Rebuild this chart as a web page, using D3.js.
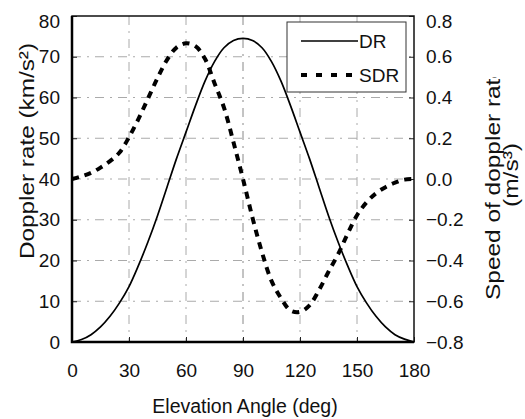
<!DOCTYPE html>
<html>
<head>
<meta charset="utf-8">
<script src="https://cdn.jsdelivr.net/npm/d3@7"></script>
<style>
    body { margin: 0; background: #fff; }
    text { font-family: "Liberation Sans", Arial, Helvetica, sans-serif; fill: #111; }
</style>
</head>
<body>
<div id="chart"></div>
<script>
// elevation angle (deg)
const angles = [0, 5, 10, 15, 20, 25, 30, 35, 40, 45, 50, 55, 60, 65, 70, 75, 80, 85, 90,
    95, 100, 105, 110, 115, 120, 125, 130, 135, 140, 145, 150, 155, 160, 165, 170, 175, 180];

// doppler rate (km/s^2), left axis
const drValues = [0, 0.6, 1.8, 3.7, 6.3, 9.6, 13.6, 18.8, 24.6, 31, 38, 45, 51.5, 58, 64, 68.8, 72.2, 74, 74.5,
    74, 72.2, 68.8, 64, 58, 51.5, 45, 38, 31, 24.6, 18.8, 13.6, 9.6, 6.3, 3.7, 1.8, 0.7, 0];

// speed of doppler rate (m/s^3), right axis
const sdrValues = [0, 0.013, 0.03, 0.056, 0.088, 0.13, 0.205, 0.295, 0.395, 0.495, 0.585, 0.645, 0.666, 0.652, 0.59, 0.47, 0.35, 0.18, 0,
    -0.19, -0.36, -0.5, -0.585, -0.645, -0.652, -0.62, -0.545, -0.455, -0.37, -0.27, -0.178, -0.115, -0.07, -0.04, -0.018, -0.003, 0];

const xTicks = [0, 30, 60, 90, 120, 150, 180];
const yLeftTicks = [0, 10, 20, 30, 40, 50, 60, 70, 80];
const yRightTicks = [-0.8, -0.6, -0.4, -0.2, 0, 0.2, 0.4, 0.6, 0.8];

const W = 525, H = 419;
const margin = {top: 16, right: 111, bottom: 77, left: 72};
const width = W - margin.left - margin.right;
const height = H - margin.top - margin.bottom;

const svg = d3.select("#chart").append("svg")
    .attr("width", W)
    .attr("height", H);

const g = svg.append("g")
    .attr("transform", "translate(" + margin.left + "," + margin.top + ")");

// scales
const x = d3.scaleLinear().domain([0, 180]).range([0, width]);
const yL = d3.scaleLinear().domain([0, 80]).range([height, 0]);
const yR = d3.scaleLinear().domain([-0.8, 0.8]).range([height, 0]);

// grid
g.append("g").selectAll("line")
    .data(yLeftTicks.filter(d => d > 0 && d < 80))
    .join("line")
    .attr("x1", 0).attr("x2", width)
    .attr("y1", d => yL(d)).attr("y2", d => yL(d))
    .attr("stroke", "#aaa")
    .attr("stroke-width", 1)
    .attr("stroke-dasharray", "9,6,2,6");

g.append("g").selectAll("line")
    .data(xTicks.filter(d => d > 0 && d < 180))
    .join("line")
    .attr("x1", d => x(d)).attr("x2", d => x(d))
    .attr("y1", 0).attr("y2", height)
    .attr("stroke", d => d === 90 ? "#888" : "#aaa")
    .attr("stroke-width", 1)
    .attr("stroke-dasharray", "9,6,2,6");

// axes (ticks pointing inside)
const xAxis = g.append("g")
    .attr("transform", "translate(0," + height + ")")
    .call(d3.axisBottom(x).tickValues(xTicks).tickSizeInner(-5).tickSizeOuter(0).tickPadding(22));

const yAxisL = g.append("g")
    .call(d3.axisLeft(yL).tickValues(yLeftTicks).tickSizeInner(-5).tickSizeOuter(0).tickPadding(12));

const yAxisR = g.append("g")
    .attr("transform", "translate(" + width + ",0)")
    .call(d3.axisRight(yR).tickValues(yRightTicks).tickSizeInner(-5).tickSizeOuter(0).tickPadding(12)
        .tickFormat(d => d3.format(".1f")(d).replace("-", "\u2212")));

[xAxis, yAxisL, yAxisR].forEach(a => {
    a.select(".domain").remove();
    a.selectAll(".tick line").attr("stroke", "#222").attr("stroke-width", 1);
    a.selectAll(".tick text").attr("font-size", 19).attr("fill", "#111");
});

// top labels sit a little lower in the original
yAxisL.selectAll(".tick text").filter(d => d === 80).attr("dy", "0.62em");
yAxisR.selectAll(".tick text").filter(d => d === 0.8).attr("dy", "0.62em");

// frame
g.append("rect")
    .attr("width", width).attr("height", height)
    .attr("fill", "none").attr("stroke", "#111").attr("stroke-width", 1.5);
g.append("path")
    .attr("d", "M0,0V" + height + "H" + width)
    .attr("fill", "none").attr("stroke", "#000").attr("stroke-width", 2.5);

// lines
const drLine = d3.line()
    .x((d, i) => x(angles[i]))
    .y(d => yL(d))
    .curve(d3.curveCatmullRom.alpha(0.5));

const sdrLine = d3.line()
    .x((d, i) => x(angles[i]))
    .y(d => yR(d))
    .curve(d3.curveCatmullRom.alpha(0.5));

g.append("path")
    .datum(drValues)
    .attr("d", drLine)
    .attr("fill", "none")
    .attr("stroke", "#000")
    .attr("stroke-width", 1.7);

g.append("path")
    .datum(sdrValues)
    .attr("d", sdrLine)
    .attr("fill", "none")
    .attr("stroke", "#000")
    .attr("stroke-width", 4)
    .attr("stroke-dasharray", "7,6");

// legend
const legend = svg.append("g");
legend.append("rect")
    .attr("x", 287).attr("y", 22).attr("width", 119).attr("height", 70)
    .attr("fill", "#fff").attr("stroke", "#333").attr("stroke-width", 1);
legend.append("line")
    .attr("x1", 301).attr("x2", 358).attr("y1", 41).attr("y2", 41)
    .attr("stroke", "#000").attr("stroke-width", 1.7);
legend.append("line")
    .attr("x1", 301).attr("x2", 358).attr("y1", 75).attr("y2", 75)
    .attr("stroke", "#000").attr("stroke-width", 4).attr("stroke-dasharray", "6,9");
legend.append("text").attr("x", 359).attr("y", 48).attr("font-size", 19).text("DR");
legend.append("text").attr("x", 359).attr("y", 82).attr("font-size", 19).text("SDR");

// axis titles
svg.append("text")
    .attr("x", 245).attr("y", 413)
    .attr("text-anchor", "middle")
    .attr("font-size", 19.5)
    .text("Elevation Angle (deg)");

svg.append("text")
    .attr("transform", "translate(34,151) rotate(-90)")
    .attr("text-anchor", "middle")
    .attr("font-size", 21)
    .attr("textLength", 216)
    .attr("lengthAdjust", "spacingAndGlyphs")
    .text("Doppler rate (km/s\u00b2)");

svg.append("defs").append("clipPath").attr("id", "rclip")
    .append("rect").attr("x", 460).attr("y", 77).attr("width", 65).attr("height", 342);

const rightTitle = svg.append("g").attr("clip-path", "url(#rclip)");
rightTitle.append("text")
    .attr("transform", "translate(500,300) rotate(-90)")
    .attr("font-size", 21)
    .attr("textLength", 235)
    .attr("lengthAdjust", "spacingAndGlyphs")
    .text("Speed of doppler rate");
rightTitle.append("text")
    .attr("transform", "translate(518,175) rotate(-90)")
    .attr("text-anchor", "middle")
    .attr("font-size", 21)
    .attr("textLength", 64)
    .attr("lengthAdjust", "spacingAndGlyphs")
    .text("(m/s\u00b3)");
</script>
</body>
</html>
